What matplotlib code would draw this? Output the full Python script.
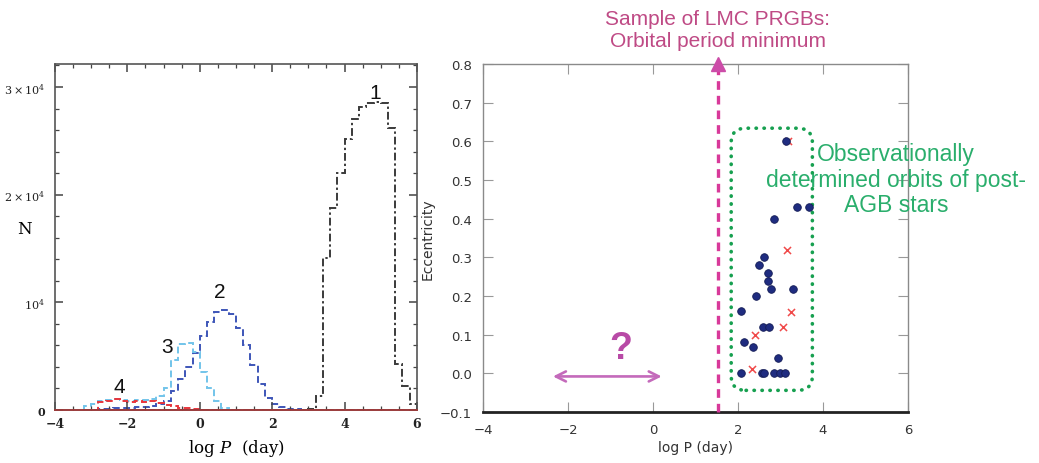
import matplotlib.pyplot as plt
from matplotlib.patches import FancyBboxPatch
from matplotlib.ticker import FixedLocator, MultipleLocator

plt.rcParams["mathtext.fontset"] = "dejavuserif"

# Left panel: period distributions (histograms, shared 0.2 dex bins)
bin_edges = [-3.2, -3.0, -2.8, -2.6, -2.4, -2.2, -2.0, -1.8, -1.6, -1.4, -1.2,
             -1.0, -0.8, -0.6, -0.4, -0.2, 0.0, 0.2, 0.4, 0.6, 0.8, 1.0, 1.2,
             1.4, 1.6, 1.8, 2.0, 2.2, 2.4, 2.6, 2.8, 3.0, 3.2, 3.4, 3.6, 3.8,
             4.0, 4.2, 4.4, 4.6, 4.8, 5.0, 5.2, 5.4, 5.6, 5.8, 6.0]
counts_1 = [0] * 31 + [100, 1300, 14100, 18800, 22000, 25200, 27000, 28100,
                       28500, 28600, 28500, 26200, 4300, 2200, 600]
counts_2 = [0, 0, 50, 100, 150, 150, 200, 250, 300, 400, 550, 800, 1800, 2900,
            4000, 5300, 6900, 8200, 9100, 9300, 8900, 7600, 6000, 4200, 2400,
            1100, 560, 250, 100, 80] + [0] * 16
counts_3 = [350, 600, 850, 900, 1000, 900, 850, 900, 950, 1000, 1300, 2000,
            4600, 6100, 6200, 5400, 3500, 2000, 850, 220] + [0] * 26
counts_4 = [0, 0, 700, 800, 1000, 800, 780, 820, 780, 800, 620, 450, 330, 200,
            150, 60] + [0] * 30
curve_labels = ["1", "2", "3", "4"]
curve_label_x = [4.84, 0.56, -0.91, -2.23]
curve_label_y = [29500, 11050, 5940, 2230]

# Right panel: post-AGB orbits
dots_logp = [3.14, 3.40, 3.68, 2.84, 2.62, 2.49, 2.70, 2.70, 2.77, 3.29, 2.43,
             2.08, 2.59, 2.73, 2.14, 2.36, 2.94, 2.08, 2.56, 2.62, 2.84, 2.98,
             3.11]
dots_ecc = [0.60, 0.429, 0.429, 0.40, 0.30, 0.279, 0.26, 0.239, 0.219, 0.219,
            0.20, 0.16, 0.119, 0.119, 0.08, 0.069, 0.039, 0.0, 0.0, 0.0, 0.0,
            0.0, 0.0]
cross_logp = [3.18, 3.16, 3.24, 3.06, 2.40, 2.33]
cross_ecc = [0.60, 0.318, 0.158, 0.119, 0.10, 0.01]
prgb_min_logp = 1.52

fig = plt.figure(figsize=(10.39, 4.64), dpi=100)

# ---- left panel
ax1 = fig.add_axes([0.0529, 0.1142, 0.3484, 0.7457])
styles = [
    (counts_1, "#3a3a3a", (0, (4, 1.5, 1.2, 1.5))),
    (counts_2, "#3d55b8", (0, (3.5, 1.8))),
    (counts_3, "#72c4ea", (0, (3.5, 1.8))),
    (counts_4, "#e8353c", (0, (3.5, 1.8))),
]
for counts, col, ls in styles:
    ax1.stairs(counts, bin_edges, color=col, linestyle=ls, linewidth=1.4)

for lab, x, y in zip(curve_labels, curve_label_x, curve_label_y):
    ax1.text(x, y, lab, fontsize=15, family="Liberation Sans", color="#111111",
             ha="center", va="center")

ax1.set_xlim(-4, 6)
ax1.set_ylim(0, 32136)
ax1.xaxis.set_major_locator(MultipleLocator(2))
ax1.xaxis.set_minor_locator(MultipleLocator(0.5))
ax1.yaxis.set_major_locator(FixedLocator([0, 10000, 20000, 30000]))
ax1.yaxis.set_minor_locator(MultipleLocator(2000))
ax1.set_yticklabels(["0", r"$10^4$", r"$2\times10^4$", r"$3\times10^4$"])
ax1.tick_params(which="both", direction="in", top=True, right=True,
                color="#444444", labelsize=9, labelcolor="#222222")
ax1.tick_params(which="major", length=6, width=1.1)
ax1.tick_params(which="minor", length=3, width=0.9)
ax1.tick_params(axis="y", pad=7, labelsize=8)
ax1.tick_params(axis="x", pad=5)
for lab in ax1.get_xticklabels() + ax1.get_yticklabels():
    lab.set_family("DejaVu Serif")
    lab.set_fontweight("bold")
for side in ["left", "top", "right"]:
    ax1.spines[side].set_color("#555555")
    ax1.spines[side].set_linewidth(1.2)
ax1.spines["bottom"].set_color("#9a3b3b")
ax1.spines["bottom"].set_linewidth(1.4)
ax1.set_xlabel(r"log $P$  (day)", fontsize=12, family="DejaVu Serif",
               labelpad=5)
ax1.set_ylabel("N", fontsize=12, family="DejaVu Serif", rotation=0,
               va="center")
ax1.yaxis.set_label_coords(-0.085, 0.526)

# ---- right panel
ax2 = fig.add_axes([0.4649, 0.1099, 0.4090, 0.7500])
ax2.set_xlim(-4, 6)
ax2.set_ylim(-0.1, 0.8)
ax2.xaxis.set_major_locator(MultipleLocator(2))
ax2.yaxis.set_major_locator(MultipleLocator(0.1))
ax2.yaxis.set_major_formatter(plt.FuncFormatter(
    lambda v, p: f"{v:.1f}".replace("-", "\u2212")))
ax2.tick_params(direction="in", top=True, right=True, length=7,
                color="#999999", labelsize=9.5, labelcolor="#333333")
ax2.tick_params(axis="y", pad=8)
ax2.tick_params(axis="x", pad=8)
for side in ["left", "top", "right"]:
    ax2.spines[side].set_color("#8a8a8a")
    ax2.spines[side].set_linewidth(1.0)
ax2.spines["bottom"].set_color("#222222")
ax2.spines["bottom"].set_linewidth(2.0)
ax2.set_xlabel("log P (day)", fontsize=10, color="#333333", labelpad=3)
ax2.set_ylabel("Eccentricity", fontsize=10, color="#333333", labelpad=4)

ax2.scatter(cross_logp, cross_ecc, marker="x", s=26, color="#f04a4a",
            linewidths=1.1, zorder=3)
ax2.scatter(dots_logp, dots_ecc, marker="o", s=30, color="#1f2c80",
            edgecolors="#141c55", linewidths=0.6, zorder=4)

# dotted green box around the observed orbits
box = FancyBboxPatch((1.84, -0.044), 3.75 - 1.84, 0.634 + 0.044,
                     boxstyle="round,pad=0,rounding_size=0.35",
                     mutation_aspect=0.105, fill=False, edgecolor="#17a050",
                     linewidth=2.6, linestyle=(0, (0.1, 2.1)),
                     capstyle="round", zorder=2)
ax2.add_patch(box)
ax2.text(5.72, 0.502, "Observationally\ndetermined orbits of post-\nAGB stars",
         fontsize=16.5, family="Liberation Sans", color="#2aae6c",
         ha="center", va="center", linespacing=1.15, zorder=5, clip_on=False)

# PRGB minimum period line with arrow
ax2.plot([prgb_min_logp, prgb_min_logp], [-0.1, 0.79], color="#d8399a",
         linewidth=2.4, linestyle=(0, (2.6, 1.8)), clip_on=False, zorder=3)
ax2.plot([prgb_min_logp], [0.8], marker="^", markersize=10, color="#cc4ca8",
         clip_on=False, zorder=6)
ax2.text(prgb_min_logp, 0.889, "Sample of LMC PRGBs:\nOrbital period minimum",
         fontsize=15, family="Liberation Sans", color="#bf4a85",
         ha="center", va="center", linespacing=1.25, clip_on=False)

# question mark and double arrow
ax2.annotate("", xy=(-2.42, -0.008), xytext=(0.27, -0.008),
             arrowprops=dict(arrowstyle="<->", color="#c46abb", lw=1.9,
                             mutation_scale=18))
ax2.text(-0.76, 0.065, "?", fontsize=27, fontweight="bold",
         family="Liberation Sans", color="#b84aa6", ha="center", va="center")

fig.savefig("out.png", dpi=100)
